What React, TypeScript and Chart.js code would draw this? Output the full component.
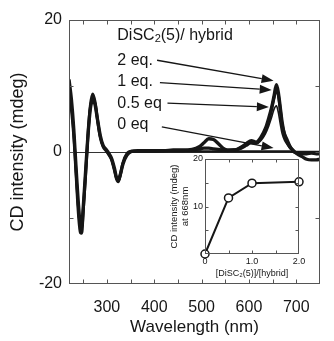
import React, { useEffect, useRef } from "react";
import { Chart, registerables } from "chart.js";
Chart.register(...registerables);

// ---------- main spectra data ----------
const wavelengths = [220,225,230,235,240,244,247,250,255,260,265,270,275,280,286,292,298,304,310,316,320,324,328,334,342,352,365,380,400,420,440,460,480,495,505,515,525,535,545,555,565,575,585,595,605,615,625,635,642,648,653,658,662,666,670,675,680,686,694,702,712,722,732,742,750];
const eq2 = [11.0,8.0,3.5,-2.5,-8.0,-11.0,-11.2,-8.5,-3.0,2.5,6.5,7.8,7.2,5.0,2.5,1.0,0.4,-0.2,-1.0,-2.5,-3.8,-4.3,-3.5,-1.8,-0.5,0.1,0.2,0.2,0.2,0.2,0.3,0.3,0.4,0.8,1.4,2.0,1.9,1.3,0.6,0.3,0.3,0.4,0.8,1.3,1.7,1.5,2.2,3.6,5.2,6.8,8.5,10.2,9.0,6.8,4.5,2.6,1.6,0.8,0.2,-0.3,-0.7,-1.1,-1.2,-1.2,-1.1];
const eq1 = [9.2,6.5,2.5,-3.5,-9.5,-12.2,-12.3,-9.0,-3.5,2.5,7.0,8.8,7.6,5.0,2.2,0.8,0.2,-0.4,-1.2,-2.8,-4.0,-4.5,-3.6,-1.6,-0.3,0.1,0.1,0.1,0.1,0.2,0.2,0.2,0.3,0.4,0.6,0.6,0.5,0.4,0.3,0.2,0.3,0.4,0.7,1.2,1.6,1.4,2.0,3.3,4.8,6.5,8.2,9.6,8.6,6.5,4.2,2.8,2.0,1.0,0.1,-0.2,-0.3,-0.3,-0.2,-0.3,-0.3];
const eq05 = [10.5,7.6,3.2,-2.8,-8.4,-11.3,-11.6,-8.8,-3.2,2.4,6.6,8.0,7.3,5.0,2.4,0.9,0.3,-0.3,-1.1,-2.6,-3.9,-4.4,-3.5,-1.7,-0.4,0.1,0.2,0.2,0.1,0.2,0.2,0.3,0.3,0.4,0.5,0.5,0.4,0.3,0.2,0.2,0.2,0.3,0.5,0.9,1.3,1.2,1.7,2.8,4.0,5.3,6.5,7.0,6.0,4.3,2.8,1.8,1.2,0.6,0.1,-0.1,-0.2,-0.2,-0.2,-0.2,-0.2];
const eq0 = [10.2,7.2,3.0,-3.0,-8.8,-11.6,-11.9,-8.9,-3.3,2.3,6.8,8.4,7.4,5.0,2.3,0.9,0.3,-0.3,-1.1,-2.7,-3.9,-4.4,-3.6,-1.7,-0.4,0.1,0.1,0.1,0.1,0.1,0.1,0.1,0.1,0.1,0.1,0.1,0.1,0.1,0.1,0.1,0.1,0.1,0.1,0.1,0.1,0.1,0.1,0.1,0.1,0.1,0.1,0.1,0.1,0.1,0.1,0.1,0.1,0.1,0.0,0.0,0.0,0.0,0.0,0.0,0.0];

const xTicks = [250,300,350,400,450,500,550,600,650,700,750];
const xTickLabels = [300,400,500,600,700];
const yTicks = [-20,-10,0,10,20];
const yTickLabels = [-20,0,20];

// ---------- annotations (data coordinates) ----------
const seriesLabels = ["2 eq.", "1 eq.", "0.5 eq", "0 eq"];
const titleAnchor = [322, 17.6];
const labelAnchors = [[322, 13.9], [322, 10.6], [322, 7.4], [322, 4.1]];
const arrowStarts = [[406, 13.9], [412, 10.5], [428, 7.4], [416, 3.8]];
const arrowTips = [[652, 10.8], [648, 9.4], [642, 6.8], [652, 0.6]];

// ---------- inset data ----------
const insetRatio = [0, 0.5, 1.0, 2.0];
const insetCD = [0, 11.8, 14.9, 15.2];
const insetXTicks = [0, 0.5, 1.0, 1.5, 2.0];
const insetXTickLabels = [0, 1.0, 2.0];
const insetYTicks = [0, 5, 10, 15, 20];
const insetYTickLabels = [10, 20];

const FONT = '"Liberation Sans", Arial, sans-serif';
const INK = "#161616";
const FRAME = "#555";

const framePlugin = {
  id: "frame",
  beforeDatasetsDraw(chart: any, _a: any, opts: any) {
    const { ctx, chartArea: a, scales } = chart;
    ctx.save();
    if (opts.fill) {
      ctx.fillStyle = "#fff";
      ctx.fillRect(a.left, a.top, a.right - a.left, a.bottom - a.top);
    }
    if (opts.zeroLine) {
      const py = Math.round(scales.y.getPixelForValue(0)) + 0.5;
      ctx.strokeStyle = "#333";
      ctx.lineWidth = 1;
      ctx.beginPath();
      ctx.moveTo(a.left, py);
      ctx.lineTo(a.right, py);
      ctx.stroke();
    }
    ctx.restore();
  },
  afterDraw(chart: any, _a: any, opts: any) {
    const { ctx, chartArea: a, scales } = chart;
    ctx.save();
    ctx.strokeStyle = opts.color || FRAME;
    ctx.lineWidth = opts.lineWidth || 1;
    const L = Math.round(a.left) + 0.5, R = Math.round(a.right) - 0.5;
    const T = Math.round(a.top) + 0.5, B = Math.round(a.bottom) - 0.5;
    ctx.strokeRect(L, T, R - L, B - T);
    const len = opts.tickLen || 4;
    ctx.beginPath();
    (opts.xTicks || []).forEach((v: number) => {
      const px = Math.round(scales.x.getPixelForValue(v)) + 0.5;
      if (px <= L + 1 || px >= R - 1) return;
      ctx.moveTo(px, B); ctx.lineTo(px, B - len);
      ctx.moveTo(px, T); ctx.lineTo(px, T + len);
    });
    (opts.yTicks || []).forEach((v: number) => {
      const py = Math.round(scales.y.getPixelForValue(v)) + 0.5;
      if (py <= T + 1 || py >= B - 1) return;
      ctx.moveTo(L, py); ctx.lineTo(L + len, py);
      ctx.moveTo(R, py); ctx.lineTo(R - len, py);
    });
    ctx.stroke();
    ctx.restore();
  },
};

const annotPlugin = {
  id: "annot",
  afterDatasetsDraw(chart: any) {
    const { ctx, scales: { x, y } } = chart;
    ctx.save();
    ctx.fillStyle = INK;
    ctx.strokeStyle = INK;
    ctx.textBaseline = "middle";
    ctx.textAlign = "left";
    let px = x.getPixelForValue(titleAnchor[0]);
    const py = y.getPixelForValue(titleAnchor[1]);
    ctx.font = `16px ${FONT}`;
    ctx.fillText("DiSC", px, py);
    px += ctx.measureText("DiSC").width;
    ctx.font = `11px ${FONT}`;
    ctx.fillText("2", px, py + 3);
    px += ctx.measureText("2").width;
    ctx.font = `16px ${FONT}`;
    ctx.fillText("(5)/ hybrid", px, py);

    seriesLabels.forEach((t, i) => {
      ctx.font = `16px ${FONT}`;
      ctx.fillText(t, x.getPixelForValue(labelAnchors[i][0]), y.getPixelForValue(labelAnchors[i][1]));
    });

    arrowStarts.forEach((s, i) => {
      const x0 = x.getPixelForValue(s[0]), y0 = y.getPixelForValue(s[1]);
      const x1 = x.getPixelForValue(arrowTips[i][0]), y1 = y.getPixelForValue(arrowTips[i][1]);
      const ang = Math.atan2(y1 - y0, x1 - x0);
      const hl = 12, hw = 4.5;
      const bx = x1 - hl * Math.cos(ang), by = y1 - hl * Math.sin(ang);
      ctx.lineWidth = 1.3;
      ctx.beginPath();
      ctx.moveTo(x0, y0);
      ctx.lineTo(bx, by);
      ctx.stroke();
      ctx.beginPath();
      ctx.moveTo(x1, y1);
      ctx.lineTo(bx + hw * Math.sin(ang), by - hw * Math.cos(ang));
      ctx.lineTo(bx - hw * Math.sin(ang), by + hw * Math.cos(ang));
      ctx.closePath();
      ctx.fill();
    });
    ctx.restore();
  },
};

const pts = (xs: number[], ys: number[]) => xs.map((v, i) => ({ x: v, y: ys[i] }));

export default function App() {
  const mainRef = useRef<HTMLCanvasElement>(null);
  const insetRef = useRef<HTMLCanvasElement>(null);

  useEffect(() => {
    const line = (data: number[], w: number) => ({
      data: pts(wavelengths, data),
      borderColor: INK,
      borderWidth: w,
      pointRadius: 0,
      cubicInterpolationMode: "monotone" as const,
      fill: false,
    });
    const main = new Chart(mainRef.current!, {
      type: "line",
      data: {
        datasets: [line(eq2, 3.4), line(eq1, 3.0), line(eq05, 1.6), line(eq0, 2.4)],
      },
      options: {
        animation: false,
        responsive: false,
        events: [],
        layout: { padding: { top: 20, right: 1, left: 0, bottom: 0 } },
        plugins: {
          legend: { display: false },
          tooltip: { enabled: false },
          frame: { xTicks, yTicks, tickLen: 4, zeroLine: true } as any,
        } as any,
        scales: {
          x: {
            type: "linear",
            min: 220,
            max: 750,
            grid: { display: false, drawTicks: false },
            border: { display: false },
            afterBuildTicks: (s: any) => { s.ticks = xTicks.map((v) => ({ value: v })); },
            afterFit: (s: any) => { s.height = 57; },
            ticks: {
              autoSkip: false,
              maxRotation: 0,
              padding: 14,
              color: INK,
              font: { family: FONT, size: 16 },
              callback: (v: any) => (xTickLabels.includes(Number(v)) ? String(v) : ""),
            },
            title: {
              display: true,
              text: "Wavelength (nm)",
              color: INK,
              font: { family: FONT, size: 17 },
              padding: { top: 0, bottom: 3 },
            },
          },
          y: {
            type: "linear",
            min: -20,
            max: 20,
            grid: { display: false, drawTicks: false },
            border: { display: false },
            afterBuildTicks: (s: any) => { s.ticks = yTicks.map((v) => ({ value: v })); },
            afterFit: (s: any) => { s.width = 69; },
            ticks: {
              padding: 7,
              color: INK,
              font: { family: FONT, size: 16 },
              callback: (v: any) => (yTickLabels.includes(Number(v)) ? String(v) : ""),
            },
            title: {
              display: true,
              text: "CD intensity (mdeg)",
              color: INK,
              font: { family: FONT, size: 18 },
              padding: { top: 7, bottom: 0 },
            },
          },
        },
      },
      plugins: [framePlugin, annotPlugin],
    });

    const inset = new Chart(insetRef.current!, {
      type: "line",
      data: {
        datasets: [
          {
            data: pts(insetRatio, insetCD),
            borderColor: INK,
            borderWidth: 2,
            pointRadius: 4,
            pointBackgroundColor: "#fff",
            pointBorderColor: INK,
            pointBorderWidth: 1.5,
            tension: 0,
            clip: false as any,
          } as any,
        ],
      },
      options: {
        animation: false,
        responsive: false,
        events: [],
        layout: { padding: { top: 9, right: 11, left: 0, bottom: 0 } },
        plugins: {
          legend: { display: false },
          tooltip: { enabled: false },
          frame: { xTicks: insetXTicks, yTicks: insetYTicks, tickLen: 3, fill: true } as any,
        } as any,
        scales: {
          x: {
            type: "linear",
            min: 0,
            max: 2,
            grid: { display: false, drawTicks: false },
            border: { display: false },
            afterBuildTicks: (s: any) => { s.ticks = insetXTicks.map((v) => ({ value: v })); },
            afterFit: (s: any) => { s.height = 31; },
            ticks: {
              autoSkip: false,
              maxRotation: 0,
              padding: 2,
              color: INK,
              font: { family: FONT, size: 9 },
              callback: (v: any) => {
                const n = Number(v);
                if (!insetXTickLabels.includes(n)) return "";
                return n === 0 ? "0" : n.toFixed(1);
              },
            },
            title: {
              display: true,
              text: "[DiSC\u2082(5)]/[hybrid]",
              color: INK,
              font: { family: FONT, size: 9 },
              padding: { top: 0, bottom: 6.5 },
            },
          },
          y: {
            type: "linear",
            min: 0,
            max: 20,
            grid: { display: false, drawTicks: false },
            border: { display: false },
            afterBuildTicks: (s: any) => { s.ticks = insetYTicks.map((v) => ({ value: v })); },
            afterFit: (s: any) => { s.width = 45; },
            ticks: {
              padding: 2,
              color: INK,
              font: { family: FONT, size: 9 },
              callback: (v: any) => (insetYTickLabels.includes(Number(v)) ? String(v) : ""),
            },
            title: {
              display: true,
              text: ["CD intensity (mdeg)", "at 668nm"],
              color: INK,
              font: { family: FONT, size: 9.5, lineHeight: 1.15 },
              padding: { top: 8.5, bottom: 0 },
            },
          },
        },
      },
      plugins: [framePlugin],
    });

    return () => {
      main.destroy();
      inset.destroy();
    };
  }, []);

  return (
    <div style={{ position: "fixed", left: 0, top: 0, width: 334, height: 341, background: "#fff" }}>
      <canvas ref={mainRef} width={334} height={341} style={{ position: "absolute", left: 0, top: 0 }} />
      <canvas ref={insetRef} width={150} height={135} style={{ position: "absolute", left: 160, top: 150 }} />
    </div>
  );
}
